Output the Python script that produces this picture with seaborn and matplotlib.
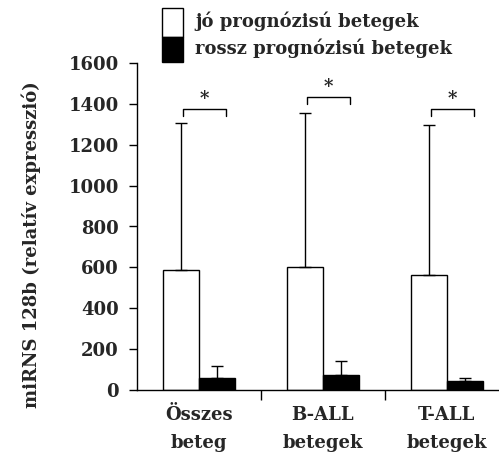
import matplotlib
matplotlib.use("Agg")
import matplotlib.pyplot as plt
import seaborn as sns
import pandas as pd
from matplotlib.patches import Rectangle

groups = ["Összes\nbeteg", "B-ALL\nbetegek", "T-ALL\nbetegek"]
series = ["jó prognózisú betegek", "rossz prognózisú betegek"]
good_mean = [587, 602, 563]
good_err_top = [1306, 1355, 1296]
bad_mean = [59, 73, 44]
bad_err_top = [117, 142, 59]
bracket_y = [1375, 1433, 1375]
yticks = [0, 200, 400, 600, 800, 1000, 1200, 1400, 1600]

FS = 13
sns.set_theme(style="white")
plt.rcParams["font.family"] = ["DejaVu Serif"]
plt.rcParams["font.weight"] = "bold"

df = pd.DataFrame({
    "group": groups * 2,
    "series": [series[0]] * 3 + [series[1]] * 3,
    "value": good_mean + bad_mean,
})
tops = good_err_top + bad_err_top

W, H = 499, 461
fig = plt.figure(figsize=(W / 100, H / 100), dpi=100)
ax = fig.add_axes([137 / W, 71 / H, 1 - 137 / W, 327 / H])

sns.barplot(data=df, x="group", y="value", hue="series", order=groups,
            hue_order=series, palette=["white", "black"], edgecolor="black",
            linewidth=1.0, width=0.58, errorbar=None, legend=False, ax=ax)

bars = [p for p in ax.patches if p.get_width() > 0][:6]
for p, top in zip(bars, tops):
    xc = p.get_x() + p.get_width() / 2
    h = p.get_height()
    ax.errorbar([xc], [h], yerr=[[0], [top - h]], fmt="none", ecolor="black",
                elinewidth=1.0, capsize=4, capthick=1.0)

# significance brackets
for i in range(3):
    b1, b2 = bars[i], bars[i + 3]
    x1 = b1.get_x() + b1.get_width() / 2 + 0.02
    x2 = b2.get_x() + b2.get_width() / 2 + 0.07
    y = bracket_y[i]
    ax.plot([x1, x1, x2, x2], [y - 35, y, y, y - 35], color="black", lw=1.0)
    ax.text((x1 + x2) / 2, y + 5, "*", ha="center", va="bottom",
            fontsize=13, fontweight="bold")

ax.set_ylim(0, 1600)
ax.set_xlim(-0.5, 2.42)
ax.set_yticks(yticks)
ax.set_yticklabels([str(t) for t in yticks], fontsize=FS, fontweight="bold")
ax.set_xticks([0.5, 1.5])
ax.set_xticklabels(["", ""])
for i, g in enumerate(groups):
    ax.text(i, -78, g, ha="center", va="top", fontsize=FS, fontweight="bold",
            linespacing=1.75)
ax.tick_params(axis="y", direction="out", length=6, width=1, color="black",
               left=True, pad=7)
ax.tick_params(axis="x", direction="out", length=7, width=1, color="black",
               bottom=True)
for s in ["top", "right"]:
    ax.spines[s].set_visible(False)
for s in ["left", "bottom"]:
    ax.spines[s].set_color("black")
    ax.spines[s].set_linewidth(1.0)
ax.set_xlabel("")
ax.set_ylabel("miRNS 128b (relatív expresszió)", fontsize=FS,
              fontweight="bold")
ax.yaxis.set_label_coords(-0.265, 0.445)

# legend drawn as figure patches/text
lx0, lw = 162, 21
fig.patches.append(Rectangle((lx0 / W, 1 - 37 / H), lw / W, 29 / H,
                             transform=fig.transFigure, facecolor="white",
                             edgecolor="black", lw=1.0))
fig.patches.append(Rectangle((lx0 / W, 1 - 62 / H), lw / W, 25 / H,
                             transform=fig.transFigure, facecolor="black",
                             edgecolor="black", lw=1.0))
fig.text(195 / W, 1 - 21 / H, series[0], ha="left", va="center",
         fontsize=FS, fontweight="bold")
fig.text(195 / W, 1 - 48 / H, series[1], ha="left", va="center",
         fontsize=FS, fontweight="bold")

fig.savefig("out.png", dpi=100)
